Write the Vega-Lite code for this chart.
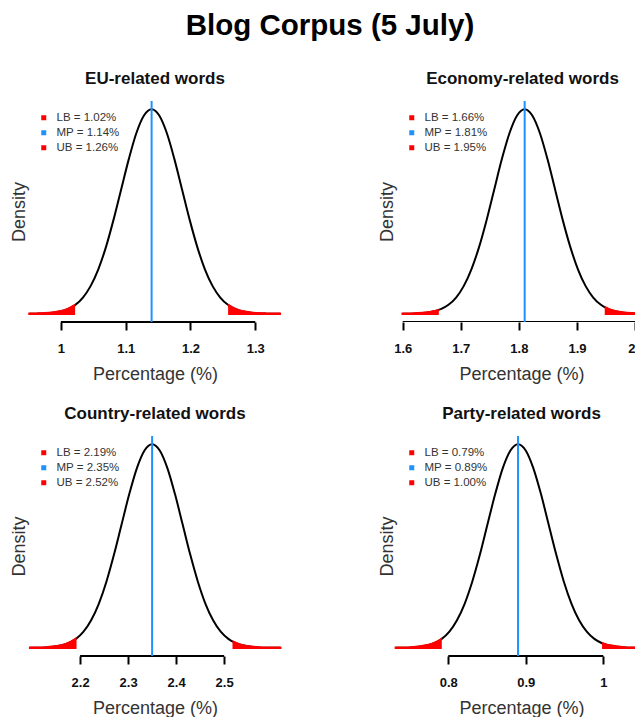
{
  "$schema": "https://vega.github.io/schema/vega-lite/v6.json",
  "padding": {"left": 10, "top": 10, "right": 0, "bottom": 0},
  "background": "white",
  "title": {"text": "Blog Corpus (5 July)", "fontSize": 29.5, "fontWeight": "bold", "color": "black", "anchor": "middle", "baseline": "alphabetic", "offset": 6, "dx": 7},
  "datasets": {
    "curve": [
      {"panel": "EU", "x": 0.9516, "density": 0.0028},
      {"panel": "EU", "x": 0.9634, "density": 0.0075},
      {"panel": "EU", "x": 0.9752, "density": 0.0185},
      {"panel": "EU", "x": 0.9869, "density": 0.0431},
      {"panel": "EU", "x": 0.9987, "density": 0.0941},
      {"panel": "EU", "x": 1.0105, "density": 0.193},
      {"panel": "EU", "x": 1.02, "density": 0.3297},
      {"panel": "EU", "x": 1.0223, "density": 0.372},
      {"panel": "EU", "x": 1.034, "density": 0.674},
      {"panel": "EU", "x": 1.0458, "density": 1.146},
      {"panel": "EU", "x": 1.0576, "density": 1.832},
      {"panel": "EU", "x": 1.0694, "density": 2.75},
      {"panel": "EU", "x": 1.0811, "density": 3.878},
      {"panel": "EU", "x": 1.0929, "density": 5.137},
      {"panel": "EU", "x": 1.1047, "density": 6.393},
      {"panel": "EU", "x": 1.1164, "density": 7.474},
      {"panel": "EU", "x": 1.1282, "density": 8.209},
      {"panel": "EU", "x": 1.14, "density": 8.47},
      {"panel": "EU", "x": 1.1518, "density": 8.209},
      {"panel": "EU", "x": 1.1636, "density": 7.474},
      {"panel": "EU", "x": 1.1753, "density": 6.393},
      {"panel": "EU", "x": 1.1871, "density": 5.137},
      {"panel": "EU", "x": 1.1989, "density": 3.878},
      {"panel": "EU", "x": 1.2107, "density": 2.75},
      {"panel": "EU", "x": 1.2224, "density": 1.832},
      {"panel": "EU", "x": 1.2342, "density": 1.146},
      {"panel": "EU", "x": 1.246, "density": 0.674},
      {"panel": "EU", "x": 1.2578, "density": 0.372},
      {"panel": "EU", "x": 1.26, "density": 0.3297},
      {"panel": "EU", "x": 1.2695, "density": 0.193},
      {"panel": "EU", "x": 1.2813, "density": 0.0941},
      {"panel": "EU", "x": 1.2931, "density": 0.0431},
      {"panel": "EU", "x": 1.3049, "density": 0.0185},
      {"panel": "EU", "x": 1.3166, "density": 0.0075},
      {"panel": "EU", "x": 1.3284, "density": 0.0028},
      {"panel": "EU", "x": 1.3378, "density": 0.0012},

      {"panel": "Economy", "x": 1.6, "density": 0.0026},
      {"panel": "Economy", "x": 1.6131, "density": 0.0067},
      {"panel": "Economy", "x": 1.6263, "density": 0.0166},
      {"panel": "Economy", "x": 1.6394, "density": 0.0386},
      {"panel": "Economy", "x": 1.6525, "density": 0.0844},
      {"panel": "Economy", "x": 1.66, "density": 0.1282},
      {"panel": "Economy", "x": 1.6656, "density": 0.1732},
      {"panel": "Economy", "x": 1.6788, "density": 0.3339},
      {"panel": "Economy", "x": 1.6919, "density": 0.6046},
      {"panel": "Economy", "x": 1.705, "density": 1.028},
      {"panel": "Economy", "x": 1.7181, "density": 1.643},
      {"panel": "Economy", "x": 1.7313, "density": 2.467},
      {"panel": "Economy", "x": 1.7444, "density": 3.479},
      {"panel": "Economy", "x": 1.7575, "density": 4.609},
      {"panel": "Economy", "x": 1.7706, "density": 5.736},
      {"panel": "Economy", "x": 1.7838, "density": 6.706},
      {"panel": "Economy", "x": 1.7969, "density": 7.365},
      {"panel": "Economy", "x": 1.81, "density": 7.599},
      {"panel": "Economy", "x": 1.8231, "density": 7.365},
      {"panel": "Economy", "x": 1.8363, "density": 6.706},
      {"panel": "Economy", "x": 1.8494, "density": 5.736},
      {"panel": "Economy", "x": 1.8625, "density": 4.609},
      {"panel": "Economy", "x": 1.8756, "density": 3.479},
      {"panel": "Economy", "x": 1.8888, "density": 2.467},
      {"panel": "Economy", "x": 1.9019, "density": 1.643},
      {"panel": "Economy", "x": 1.915, "density": 1.028},
      {"panel": "Economy", "x": 1.9281, "density": 0.6046},
      {"panel": "Economy", "x": 1.9413, "density": 0.3339},
      {"panel": "Economy", "x": 1.95, "density": 0.217},
      {"panel": "Economy", "x": 1.9544, "density": 0.1732},
      {"panel": "Economy", "x": 1.9675, "density": 0.0844},
      {"panel": "Economy", "x": 1.9806, "density": 0.0386},
      {"panel": "Economy", "x": 1.9938, "density": 0.0166},
      {"panel": "Economy", "x": 2.0069, "density": 0.0067},
      {"panel": "Economy", "x": 2.02, "density": 0.0026},

      {"panel": "Country", "x": 2.096, "density": 0.0021},
      {"panel": "Country", "x": 2.1119, "density": 0.0056},
      {"panel": "Country", "x": 2.1278, "density": 0.0137},
      {"panel": "Country", "x": 2.1436, "density": 0.032},
      {"panel": "Country", "x": 2.1595, "density": 0.0698},
      {"panel": "Country", "x": 2.1754, "density": 0.1432},
      {"panel": "Country", "x": 2.19, "density": 0.2625},
      {"panel": "Country", "x": 2.1913, "density": 0.276},
      {"panel": "Country", "x": 2.2071, "density": 0.4998},
      {"panel": "Country", "x": 2.223, "density": 0.8503},
      {"panel": "Country", "x": 2.2389, "density": 1.359},
      {"panel": "Country", "x": 2.2548, "density": 2.04},
      {"panel": "Country", "x": 2.2706, "density": 2.876},
      {"panel": "Country", "x": 2.2865, "density": 3.811},
      {"panel": "Country", "x": 2.3024, "density": 4.742},
      {"panel": "Country", "x": 2.3183, "density": 5.544},
      {"panel": "Country", "x": 2.3341, "density": 6.089},
      {"panel": "Country", "x": 2.35, "density": 6.283},
      {"panel": "Country", "x": 2.3659, "density": 6.089},
      {"panel": "Country", "x": 2.3818, "density": 5.544},
      {"panel": "Country", "x": 2.3976, "density": 4.742},
      {"panel": "Country", "x": 2.4135, "density": 3.811},
      {"panel": "Country", "x": 2.4294, "density": 2.876},
      {"panel": "Country", "x": 2.4453, "density": 2.04},
      {"panel": "Country", "x": 2.4611, "density": 1.359},
      {"panel": "Country", "x": 2.477, "density": 0.8503},
      {"panel": "Country", "x": 2.4929, "density": 0.4998},
      {"panel": "Country", "x": 2.5088, "density": 0.276},
      {"panel": "Country", "x": 2.52, "density": 0.1744},
      {"panel": "Country", "x": 2.5246, "density": 0.1432},
      {"panel": "Country", "x": 2.5405, "density": 0.0698},
      {"panel": "Country", "x": 2.5564, "density": 0.032},
      {"panel": "Country", "x": 2.5723, "density": 0.0137},
      {"panel": "Country", "x": 2.5881, "density": 0.0056},
      {"panel": "Country", "x": 2.604, "density": 0.0021},
      {"panel": "Country", "x": 2.6167, "density": 0.0009},

      {"panel": "Party", "x": 0.7324, "density": 0.0034},
      {"panel": "Party", "x": 0.7423, "density": 0.009},
      {"panel": "Party", "x": 0.7521, "density": 0.0222},
      {"panel": "Party", "x": 0.762, "density": 0.0515},
      {"panel": "Party", "x": 0.7718, "density": 0.1125},
      {"panel": "Party", "x": 0.7817, "density": 0.2308},
      {"panel": "Party", "x": 0.79, "density": 0.4043},
      {"panel": "Party", "x": 0.7915, "density": 0.4449},
      {"panel": "Party", "x": 0.8014, "density": 0.8056},
      {"panel": "Party", "x": 0.8112, "density": 1.37},
      {"panel": "Party", "x": 0.8211, "density": 2.19},
      {"panel": "Party", "x": 0.8309, "density": 3.287},
      {"panel": "Party", "x": 0.8408, "density": 4.636},
      {"panel": "Party", "x": 0.8506, "density": 6.141},
      {"panel": "Party", "x": 0.8605, "density": 7.643},
      {"panel": "Party", "x": 0.8703, "density": 8.936},
      {"panel": "Party", "x": 0.8802, "density": 9.814},
      {"panel": "Party", "x": 0.89, "density": 10.126},
      {"panel": "Party", "x": 0.8999, "density": 9.814},
      {"panel": "Party", "x": 0.9097, "density": 8.936},
      {"panel": "Party", "x": 0.9196, "density": 7.643},
      {"panel": "Party", "x": 0.9294, "density": 6.141},
      {"panel": "Party", "x": 0.9393, "density": 4.636},
      {"panel": "Party", "x": 0.9491, "density": 3.287},
      {"panel": "Party", "x": 0.959, "density": 2.19},
      {"panel": "Party", "x": 0.9688, "density": 1.37},
      {"panel": "Party", "x": 0.9787, "density": 0.8056},
      {"panel": "Party", "x": 0.9885, "density": 0.4449},
      {"panel": "Party", "x": 0.9984, "density": 0.2308},
      {"panel": "Party", "x": 1.0, "density": 0.2056},
      {"panel": "Party", "x": 1.0082, "density": 0.1125},
      {"panel": "Party", "x": 1.0181, "density": 0.0515},
      {"panel": "Party", "x": 1.0279, "density": 0.0222},
      {"panel": "Party", "x": 1.0378, "density": 0.009},
      {"panel": "Party", "x": 1.0476, "density": 0.0034}
    ],
    "bounds": [
      {"panel": "EU", "kind": "LB", "value": 1.02, "label": "LB = 1.02%"},
      {"panel": "EU", "kind": "MP", "value": 1.14, "label": "MP = 1.14%"},
      {"panel": "EU", "kind": "UB", "value": 1.26, "label": "UB = 1.26%"},
      {"panel": "Economy", "kind": "LB", "value": 1.66, "label": "LB = 1.66%"},
      {"panel": "Economy", "kind": "MP", "value": 1.81, "label": "MP = 1.81%"},
      {"panel": "Economy", "kind": "UB", "value": 1.95, "label": "UB = 1.95%"},
      {"panel": "Country", "kind": "LB", "value": 2.19, "label": "LB = 2.19%"},
      {"panel": "Country", "kind": "MP", "value": 2.35, "label": "MP = 2.35%"},
      {"panel": "Country", "kind": "UB", "value": 2.52, "label": "UB = 2.52%"},
      {"panel": "Party", "kind": "LB", "value": 0.79, "label": "LB = 0.79%"},
      {"panel": "Party", "kind": "MP", "value": 0.89, "label": "MP = 0.89%"},
      {"panel": "Party", "kind": "UB", "value": 1.0, "label": "UB = 1.00%"}
    ]
  },
  "columns": 2,
  "bounds": "flush",
  "spacing": {"row": 114, "column": 102},
  "resolve": {
    "scale": {"x": "independent", "y": "independent", "color": "independent"},
    "axis": {"x": "independent", "y": "independent"},
    "legend": {"color": "independent"}
  },
  "concat": [
    {
      "width": 266,
      "height": 221,
      "title": {"text": "EU-related words"},
      "layer": [
        {
          "data": {"name": "curve"},
          "transform": [{"filter": "datum.panel === 'EU'"}],
          "mark": {"type": "line", "color": "black", "strokeWidth": 2, "interpolate": "monotone", "clip": true},
          "encoding": {
            "x": {"field": "x", "type": "quantitative", "scale": {"domain": [0.94, 1.3505], "nice": false, "zero": false}, "axis": {"title": "Percentage (%)", "values": [1, 1.1, 1.2, 1.3], "format": "~g"}},
            "y": {"field": "density", "type": "quantitative", "scale": {"domain": [-0.339, 8.809], "nice": false, "zero": false}, "axis": {"title": "Density"}}
          }
        },
        {
          "data": {"name": "curve"},
          "transform": [{"filter": "datum.panel === 'EU' && datum.x <= 1.02"}],
          "mark": {"type": "area", "color": "#FF0000", "stroke": "#FF0000", "strokeWidth": 2.5, "interpolate": "monotone", "clip": true},
          "encoding": {"x": {"field": "x", "type": "quantitative"}, "y": {"field": "density", "type": "quantitative"}}
        },
        {
          "data": {"name": "curve"},
          "transform": [{"filter": "datum.panel === 'EU' && datum.x >= 1.26"}],
          "mark": {"type": "area", "color": "#FF0000", "stroke": "#FF0000", "strokeWidth": 2.5, "interpolate": "monotone", "clip": true},
          "encoding": {"x": {"field": "x", "type": "quantitative"}, "y": {"field": "density", "type": "quantitative"}}
        },
        {
          "data": {"values": [{}]},
          "mark": {"type": "rule", "color": "black", "strokeWidth": 2},
          "encoding": {"x": {"datum": 1, "type": "quantitative"}, "x2": {"datum": 1.3}, "y": {"datum": -0.339, "type": "quantitative"}}
        },
        {
          "data": {"name": "bounds"},
          "transform": [{"filter": "datum.panel === 'EU' && datum.kind === 'MP'"}],
          "mark": {"type": "rule", "color": "#1E90FF", "strokeWidth": 2},
          "encoding": {"x": {"field": "value", "type": "quantitative"}}
        },
        {
          "data": {"name": "bounds"},
          "transform": [{"filter": "datum.panel === 'EU'"}],
          "mark": {"type": "square", "filled": true, "opacity": 0},
          "encoding": {
            "x": {"field": "value", "type": "quantitative"},
            "y": {"datum": 0, "type": "quantitative"},
            "color": {"field": "label", "type": "nominal", "scale": {"domain": ["LB = 1.02%", "MP = 1.14%", "UB = 1.26%"], "range": ["#FF0000", "#1E90FF", "#FF0000"]}, "legend": {"title": null}}
          }
        }
      ]
    },
    {
      "width": 245,
      "height": 221,
      "title": {"text": "Economy-related words", "dx": 10},
      "layer": [
        {
          "data": {"name": "curve"},
          "transform": [{"filter": "datum.panel === 'Economy'"}],
          "mark": {"type": "line", "color": "black", "strokeWidth": 2, "interpolate": "monotone", "clip": true},
          "encoding": {
            "x": {"field": "x", "type": "quantitative", "scale": {"domain": [1.5781, 2.0], "nice": false, "zero": false}, "axis": {"title": "Percentage (%)", "values": [1.6, 1.7, 1.8, 1.9, 2.0], "format": "~g", "titleX": 131.5}},
            "y": {"field": "density", "type": "quantitative", "scale": {"domain": [-0.304, 7.903], "nice": false, "zero": false}, "axis": {"title": "Density"}}
          }
        },
        {
          "data": {"name": "curve"},
          "transform": [{"filter": "datum.panel === 'Economy' && datum.x <= 1.66"}],
          "mark": {"type": "area", "color": "#FF0000", "stroke": "#FF0000", "strokeWidth": 2.5, "interpolate": "monotone", "clip": true},
          "encoding": {"x": {"field": "x", "type": "quantitative"}, "y": {"field": "density", "type": "quantitative"}}
        },
        {
          "data": {"name": "curve"},
          "transform": [{"filter": "datum.panel === 'Economy' && datum.x >= 1.95"}],
          "mark": {"type": "area", "color": "#FF0000", "stroke": "#FF0000", "strokeWidth": 2.5, "interpolate": "monotone", "clip": true},
          "encoding": {"x": {"field": "x", "type": "quantitative"}, "y": {"field": "density", "type": "quantitative"}}
        },
        {
          "data": {"values": [{}]},
          "mark": {"type": "rule", "color": "black", "strokeWidth": 2, "clip": true},
          "encoding": {"x": {"datum": 1.6, "type": "quantitative"}, "x2": {"datum": 2.0}, "y": {"datum": -0.304, "type": "quantitative"}}
        },
        {
          "data": {"name": "bounds"},
          "transform": [{"filter": "datum.panel === 'Economy' && datum.kind === 'MP'"}],
          "mark": {"type": "rule", "color": "#1E90FF", "strokeWidth": 2},
          "encoding": {"x": {"field": "value", "type": "quantitative"}}
        },
        {
          "data": {"name": "bounds"},
          "transform": [{"filter": "datum.panel === 'Economy'"}],
          "mark": {"type": "square", "filled": true, "opacity": 0},
          "encoding": {
            "x": {"field": "value", "type": "quantitative"},
            "y": {"datum": 0, "type": "quantitative"},
            "color": {"field": "label", "type": "nominal", "scale": {"domain": ["LB = 1.66%", "MP = 1.81%", "UB = 1.95%"], "range": ["#FF0000", "#1E90FF", "#FF0000"]}, "legend": {"title": null}}
          }
        }
      ]
    },
    {
      "width": 266,
      "height": 220,
      "title": {"text": "Country-related words"},
      "layer": [
        {
          "data": {"name": "curve"},
          "transform": [{"filter": "datum.panel === 'Country'"}],
          "mark": {"type": "line", "color": "black", "strokeWidth": 2, "interpolate": "monotone", "clip": true},
          "encoding": {
            "x": {"field": "x", "type": "quantitative", "scale": {"domain": [2.079, 2.633], "nice": false, "zero": false}, "axis": {"title": "Percentage (%)", "values": [2.2, 2.3, 2.4, 2.5], "format": "~g"}},
            "y": {"field": "density", "type": "quantitative", "scale": {"domain": [-0.251, 6.534], "nice": false, "zero": false}, "axis": {"title": "Density"}}
          }
        },
        {
          "data": {"name": "curve"},
          "transform": [{"filter": "datum.panel === 'Country' && datum.x <= 2.19"}],
          "mark": {"type": "area", "color": "#FF0000", "stroke": "#FF0000", "strokeWidth": 2.5, "interpolate": "monotone", "clip": true},
          "encoding": {"x": {"field": "x", "type": "quantitative"}, "y": {"field": "density", "type": "quantitative"}}
        },
        {
          "data": {"name": "curve"},
          "transform": [{"filter": "datum.panel === 'Country' && datum.x >= 2.52"}],
          "mark": {"type": "area", "color": "#FF0000", "stroke": "#FF0000", "strokeWidth": 2.5, "interpolate": "monotone", "clip": true},
          "encoding": {"x": {"field": "x", "type": "quantitative"}, "y": {"field": "density", "type": "quantitative"}}
        },
        {
          "data": {"values": [{}]},
          "mark": {"type": "rule", "color": "black", "strokeWidth": 2},
          "encoding": {"x": {"datum": 2.2, "type": "quantitative"}, "x2": {"datum": 2.5}, "y": {"datum": -0.251, "type": "quantitative"}}
        },
        {
          "data": {"name": "bounds"},
          "transform": [{"filter": "datum.panel === 'Country' && datum.kind === 'MP'"}],
          "mark": {"type": "rule", "color": "#1E90FF", "strokeWidth": 2},
          "encoding": {"x": {"field": "value", "type": "quantitative"}}
        },
        {
          "data": {"name": "bounds"},
          "transform": [{"filter": "datum.panel === 'Country'"}],
          "mark": {"type": "square", "filled": true, "opacity": 0},
          "encoding": {
            "x": {"field": "value", "type": "quantitative"},
            "y": {"datum": 0, "type": "quantitative"},
            "color": {"field": "label", "type": "nominal", "scale": {"domain": ["LB = 2.19%", "MP = 2.35%", "UB = 2.52%"], "range": ["#FF0000", "#1E90FF", "#FF0000"]}, "legend": {"title": null}}
          }
        }
      ]
    },
    {
      "width": 245,
      "height": 220,
      "title": {"text": "Party-related words", "dx": 9},
      "layer": [
        {
          "data": {"name": "curve"},
          "transform": [{"filter": "datum.panel === 'Party'"}],
          "mark": {"type": "line", "color": "black", "strokeWidth": 2, "interpolate": "monotone", "clip": true},
          "encoding": {
            "x": {"field": "x", "type": "quantitative", "scale": {"domain": [0.7248, 1.0409], "nice": false, "zero": false}, "axis": {"title": "Percentage (%)", "values": [0.8, 0.9, 1.0], "format": "~g", "titleX": 131.5}},
            "y": {"field": "density", "type": "quantitative", "scale": {"domain": [-0.405, 10.531], "nice": false, "zero": false}, "axis": {"title": "Density"}}
          }
        },
        {
          "data": {"name": "curve"},
          "transform": [{"filter": "datum.panel === 'Party' && datum.x <= 0.79"}],
          "mark": {"type": "area", "color": "#FF0000", "stroke": "#FF0000", "strokeWidth": 2.5, "interpolate": "monotone", "clip": true},
          "encoding": {"x": {"field": "x", "type": "quantitative"}, "y": {"field": "density", "type": "quantitative"}}
        },
        {
          "data": {"name": "curve"},
          "transform": [{"filter": "datum.panel === 'Party' && datum.x >= 1.0"}],
          "mark": {"type": "area", "color": "#FF0000", "stroke": "#FF0000", "strokeWidth": 2.5, "interpolate": "monotone", "clip": true},
          "encoding": {"x": {"field": "x", "type": "quantitative"}, "y": {"field": "density", "type": "quantitative"}}
        },
        {
          "data": {"values": [{}]},
          "mark": {"type": "rule", "color": "black", "strokeWidth": 2},
          "encoding": {"x": {"datum": 0.8, "type": "quantitative"}, "x2": {"datum": 1.0}, "y": {"datum": -0.405, "type": "quantitative"}}
        },
        {
          "data": {"name": "bounds"},
          "transform": [{"filter": "datum.panel === 'Party' && datum.kind === 'MP'"}],
          "mark": {"type": "rule", "color": "#1E90FF", "strokeWidth": 2},
          "encoding": {"x": {"field": "value", "type": "quantitative"}}
        },
        {
          "data": {"name": "bounds"},
          "transform": [{"filter": "datum.panel === 'Party'"}],
          "mark": {"type": "square", "filled": true, "opacity": 0},
          "encoding": {
            "x": {"field": "value", "type": "quantitative"},
            "y": {"datum": 0, "type": "quantitative"},
            "color": {"field": "label", "type": "nominal", "scale": {"domain": ["LB = 0.79%", "MP = 0.89%", "UB = 1.00%"], "range": ["#FF0000", "#1E90FF", "#FF0000"]}, "legend": {"title": null}}
          }
        }
      ]
    }
  ],
  "config": {
    "font": "Liberation Sans",
    "view": {"stroke": null},
    "axis": {"grid": false, "labelFont": "Liberation Sans", "titleFont": "Liberation Sans"},
    "axisX": {"domain": false, "tickSize": 8, "tickWidth": 2, "tickColor": "black", "labelFontSize": 13, "labelFontWeight": "bold", "labelColor": "#111111", "labelPadding": 12, "labelFlush": true, "titleFontSize": 18, "titleFontWeight": "normal", "titleColor": "#333333", "titlePadding": 10},
    "axisY": {"domain": false, "ticks": false, "labels": false, "titleFontSize": 18, "titleFontWeight": "normal", "titleColor": "#333333", "titlePadding": -6},
    "title": {"font": "Liberation Sans", "fontSize": 17, "fontWeight": "bold", "color": "#111111", "baseline": "alphabetic", "offset": 12, "anchor": "middle"},
    "legend": {"orient": "top-left", "offset": 11, "padding": 0, "symbolType": "square", "symbolSize": 25, "symbolOpacity": 1, "symbolStrokeWidth": 0, "symbolOffset": 5, "labelOffset": 7, "labelFont": "Liberation Sans", "labelFontSize": 11.5, "labelColor": "#333333", "rowPadding": 2}
  }
}
